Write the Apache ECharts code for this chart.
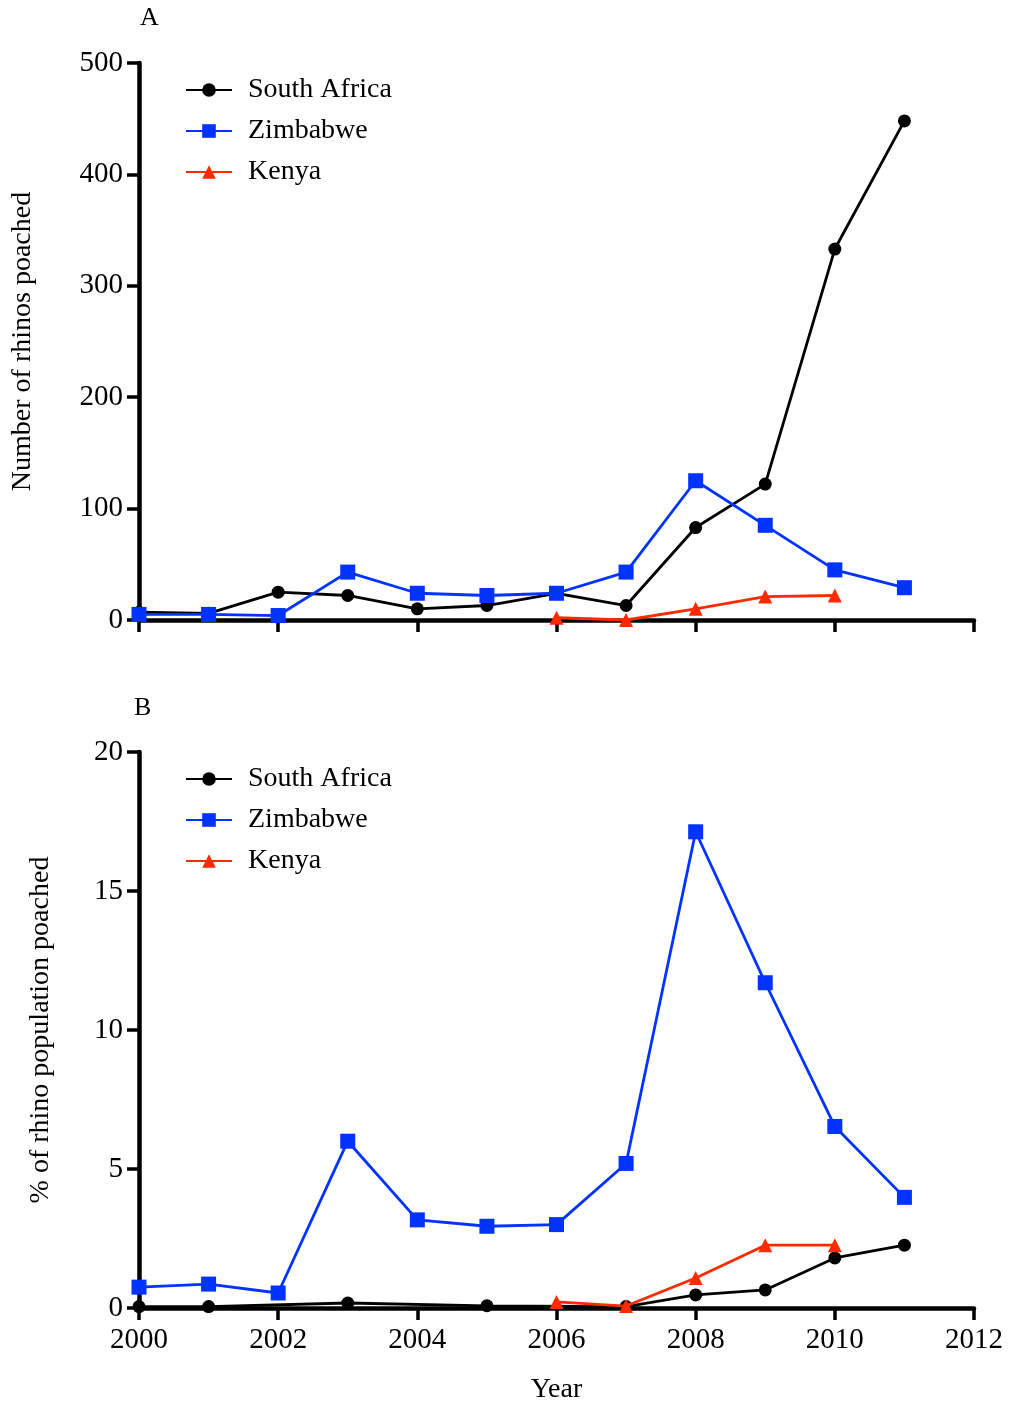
<!DOCTYPE html>
<html><head><meta charset="utf-8">
<script src="https://cdn.jsdelivr.net/npm/echarts@6/dist/echarts.min.js"></script>
<style>html,body{margin:0;padding:0;background:#fff}#c{width:1011px;height:1405px}</style>
</head><body><div id="c"></div>
<script>
const years = [2000,2001,2002,2003,2004,2005,2006,2007,2008,2009,2010,2011];
// Panel A: number of rhinos poached
const saCount  = [7,6,25,22,10,13,24,13,83,122,333,448];
const zimCount = [5,5,4,43,24,22,24,43,125,85,45,29];
const kenCount = [null,null,null,null,null,null,2,0,10,21,22,null];
// Panel B: % of rhino population poached
const saPct  = [0.05,0.05,null,0.18,null,0.08,null,0.05,0.47,0.65,1.8,2.26];
const zimPct = [0.75,0.86,0.54,6.0,3.17,2.94,3.0,5.2,17.13,11.7,6.53,3.98];
const kenPct = [null,null,null,null,null,null,0.22,0.07,1.08,2.26,2.26,null];
const seriesNames = ['South Africa','Zimbabwe','Kenya'];

const FONT = 'Liberation Serif';
const pairs = arr => years.map((y,i)=>[y,arr[i]]).filter(p=>p[1]!==null);
const colors = ['#000000','#0033ff','#ff2a00'];
const symbols = ['circle','rect','triangle'];
const sizes = [13,15,14];

function mk(name, arr, idx, axis){
  return {name, type:'line', xAxisIndex:axis, yAxisIndex:axis, data:pairs(arr),
    symbol:symbols[idx], symbolSize:sizes[idx], showSymbol:true, clip:false,
    lineStyle:{color:colors[idx], width:2.8}, itemStyle:{color:colors[idx]},
    z: 2+idx, animation:false};
}
const axisCommon = {
  axisLine:{show:true,onZero:false,lineStyle:{color:'#000',width:4.5}},
  axisTick:{show:true,length:12,inside:false,lineStyle:{color:'#000',width:3.5}},
  splitLine:{show:false},
};
const legendCommon = {data:seriesNames, orient:'vertical', left:185, padding:0, itemGap:13, itemWidth:46, itemHeight:17,
     textStyle:{fontFamily:FONT,fontSize:28,color:'#000',padding:[0,0,0,11]}};
const chart = echarts.init(document.getElementById('c'),null,{renderer:'canvas'});
chart.setOption({
  animation:false,
  backgroundColor:'#fff',
  textStyle:{fontFamily:FONT},
  title:[
    {text:'A', left:140, top:5, padding:0, textStyle:{fontFamily:FONT,fontSize:26,fontWeight:'normal',color:'#000'}},
    {text:'B', left:134, top:695, padding:0, textStyle:{fontFamily:FONT,fontSize:26,fontWeight:'normal',color:'#000'}}
  ],
  legend:[
    Object.assign({top:76}, legendCommon),
    Object.assign({top:765}, legendCommon)
  ],
  grid:[
    {left:139, right:37, top:63, height:557},
    {left:139, right:37, top:752, height:557}
  ],
  xAxis:[
    Object.assign({type:'value', gridIndex:0, min:2000, max:2012, interval:2,
      axisLabel:{show:false}}, axisCommon),
    Object.assign({type:'value', gridIndex:1, min:2000, max:2012, interval:2,
      name:'Year', nameLocation:'middle', nameGap:68,
      nameTextStyle:{fontFamily:FONT,fontSize:28,color:'#000'},
      axisLabel:{show:true, margin:18, fontFamily:FONT, fontSize:29, color:'#000',
        formatter:v=>String(v)}}, axisCommon)
  ],
  yAxis:[
    Object.assign({type:'value', gridIndex:0, min:0, max:500, interval:100,
      name:'Number of rhinos poached', nameLocation:'middle', nameRotate:90, nameGap:102,
      nameTextStyle:{fontFamily:FONT,fontSize:28,color:'#000'},
      axisLabel:{margin:16, fontFamily:FONT, fontSize:29, color:'#000'}}, axisCommon),
    Object.assign({type:'value', gridIndex:1, min:0, max:20, interval:5,
      name:'% of rhino population poached', nameLocation:'middle', nameRotate:90, nameGap:84,
      nameTextStyle:{fontFamily:FONT,fontSize:28,color:'#000'},
      axisLabel:{margin:16, fontFamily:FONT, fontSize:29, color:'#000'}}, axisCommon)
  ],
  series:[
    mk('South Africa', saCount, 0, 0),
    mk('Zimbabwe', zimCount, 1, 0),
    mk('Kenya', kenCount, 2, 0),
    mk('South Africa', saPct, 0, 1),
    mk('Zimbabwe', zimPct, 1, 1),
    mk('Kenya', kenPct, 2, 1)
  ]
});
</script></body></html>
